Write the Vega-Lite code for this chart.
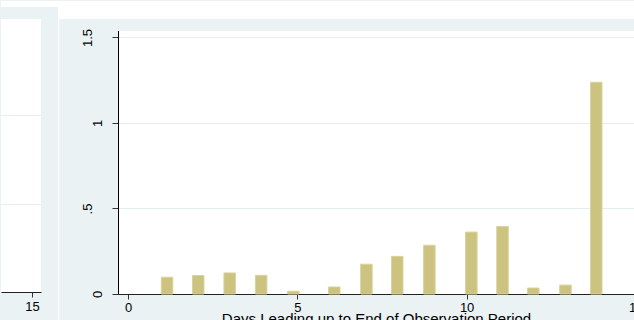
{
  "$schema": "https://vega.github.io/schema/vega-lite/v6.json",
  "background": "#eaf2f3",
  "padding": 0,
  "bounds": "flush",
  "spacing": 77,
  "config": {
    "font": "Liberation Sans",
    "view": {"stroke": null, "fill": "white"},
    "axis": {
      "labelFont": "Liberation Sans",
      "titleFont": "Liberation Sans",
      "labelColor": "#000",
      "titleColor": "#000",
      "domainColor": "#222",
      "tickColor": "#333",
      "gridColor": "#e4edef",
      "gridOpacity": 1,
      "labelFontSize": 13,
      "titleFontSize": 15,
      "titleFontWeight": "normal",
      "labelFlush": false,
      "labelOverlap": false
    }
  },
  "datasets": {
    "days": [
      {"day": 1.15, "value": 0.098},
      {"day": 2.07, "value": 0.108},
      {"day": 3.0, "value": 0.123},
      {"day": 3.93, "value": 0.109},
      {"day": 4.88, "value": 0.016},
      {"day": 6.09, "value": 0.041},
      {"day": 7.04, "value": 0.174},
      {"day": 7.95, "value": 0.22},
      {"day": 8.9, "value": 0.285},
      {"day": 10.14, "value": 0.362},
      {"day": 11.06, "value": 0.395},
      {"day": 11.97, "value": 0.035},
      {"day": 12.92, "value": 0.052},
      {"day": 13.83, "value": 1.238}
    ],
    "leftpanel": [
      {"day": 15, "value": 0}
    ]
  },
  "hconcat": [
    {
      "width": 40,
      "height": 273,
      "data": {"name": "leftpanel"},
      "mark": {"type": "point", "opacity": 0},
      "encoding": {
        "x": {
          "field": "day",
          "type": "quantitative",
          "scale": {"domain": [14.084, 15.266], "padding": 0},
          "axis": {"values": [15], "title": null, "grid": false, "tickSize": 5, "labelPadding": 3}
        },
        "y": {
          "field": "value",
          "type": "quantitative",
          "scale": {"domain": [0, 3.088]},
          "axis": {"values": [1, 2], "grid": true, "domain": false, "ticks": false, "labels": false, "title": null, "minExtent": 0, "maxExtent": 0}
        }
      }
    },
    {
      "width": 528,
      "height": 275,
      "layer": [
        {
          "data": {"name": "days"},
          "mark": {"type": "bar", "width": 11.5, "color": "#cbc37f", "stroke": "#d8d29c", "strokeWidth": 1},
          "encoding": {
            "x": {
              "field": "day",
              "type": "quantitative",
              "scale": {"domain": [-0.3, 15.3], "padding": 0},
              "axis": {
                "values": [0, 5, 10, 15],
                "title": "Days Leading up to End of Observation Period",
                "grid": false,
                "tickSize": 5,
                "labelPadding": 2,
                "titlePadding": -3,
                "titleX": 258
              }
            },
            "y": {
              "field": "value",
              "type": "quantitative",
              "scale": {"domain": [0, 1.608]},
              "axis": {
                "values": [0, 0.5, 1, 1.5],
                "format": "~g",
                "labelExpr": "datum.value == 0.5 ? '.5' : datum.label",
                "labelAngle": -90,
                "labelAlign": "center",
                "labelBaseline": {"condition": {"test": "datum.value == 0.5 || datum.value == 1.5", "value": "line-bottom"}, "value": "bottom"},
                "labelLineHeight": 33,
                "tickSize": 6,
                "labelPadding": 8,
                "title": null,
                "grid": true,
                "domainColor": "#000"
              }
            }
          }
        },
        {
          "data": {"values": [{}]},
          "mark": {"type": "rect", "color": "#eaf2f3"},
          "encoding": {
            "x": {"datum": -0.5, "type": "quantitative", "scale": {"domain": [-0.3, 15.3], "padding": 0}},
            "x2": {"datum": 15.6},
            "y": {"datum": 1.5378, "type": "quantitative", "scale": {"domain": [0, 1.608]}},
            "y2": {"datum": 1.609}
          }
        },
        {
          "data": {"values": [{}]},
          "mark": {"type": "rect", "color": "white"},
          "encoding": {
            "x": {"datum": -2.071, "type": "quantitative", "scale": {"domain": [-0.3, 15.3], "padding": 0}},
            "x2": {"datum": 15.6},
            "y": {"datum": 1.608, "type": "quantitative", "scale": {"domain": [0, 1.608]}},
            "y2": {"datum": 1.7133}
          }
        },
        {
          "data": {"values": [{}]},
          "mark": {"type": "rect", "color": "white"},
          "encoding": {
            "x": {"datum": -3.757, "type": "quantitative", "scale": {"domain": [-0.3, 15.3], "padding": 0}},
            "x2": {"datum": -2.071},
            "y": {"datum": 1.678, "type": "quantitative", "scale": {"domain": [0, 1.608]}},
            "y2": {"datum": 1.7133}
          }
        },
        {
          "data": {"values": [{}]},
          "mark": {"type": "rect", "color": "white"},
          "encoding": {
            "x": {"datum": -2.071, "type": "quantitative", "scale": {"domain": [-0.3, 15.3], "padding": 0}},
            "x2": {"datum": -2.033},
            "y": {"datum": -0.16, "type": "quantitative", "scale": {"domain": [0, 1.608]}},
            "y2": {"datum": 1.7133}
          }
        }
      ]
    }
  ]
}
